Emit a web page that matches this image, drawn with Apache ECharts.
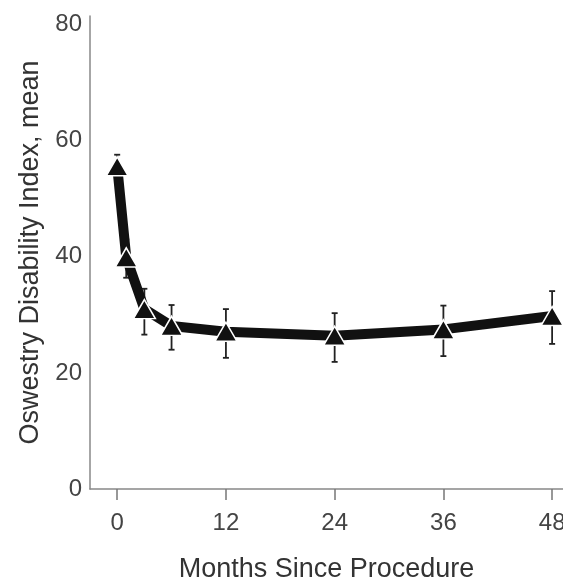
<!DOCTYPE html>
<html>
<head>
<meta charset="utf-8">
<script src="https://cdn.jsdelivr.net/npm/echarts@6/dist/echarts.min.js"></script>
<style>html,body{margin:0;padding:0;background:#fff}#c{width:563px;height:581px}</style>
</head>
<body>
<div id="c"></div>
<script>
// Data
const months = [0, 1, 3, 6, 12, 24, 36, 48];
const odiMean = [55.6, 39.9, 31.0, 28.1, 27.1, 26.4, 27.5, 29.8];
const odiUpper = [57.6, 43.0, 34.5, 31.7, 31.0, 30.3, 31.6, 34.1];
const odiLower = [53.6, 36.4, 26.6, 24.0, 22.6, 21.9, 22.9, 25.0];
const xTicks = [0, 12, 24, 36, 48];
const yTicks = [0, 20, 40, 60, 80];

const lineData = months.map((m, i) => [m, odiMean[i]]);
const errData = months.map((m, i) => [m, odiLower[i], odiUpper[i]]);

const chart = echarts.init(document.getElementById('c'), null, {renderer: 'canvas'});
const labelFont = '"Liberation Sans Narrow", "Liberation Sans", Arial, sans-serif';
const nameFont = '"Liberation Sans", Arial, sans-serif';

chart.setOption({
  animation: false,
  backgroundColor: '#fff',
  grid: {left: 90, right: 0, top: 16, bottom: 92, containLabel: false, outerBoundsMode: 'none'},
  xAxis: {
    type: 'value', min: -3, max: 49.2,
    name: 'Months Since Procedure', nameLocation: 'middle', nameGap: 67,
    nameTextStyle: {fontFamily: nameFont, fontSize: 27, color: '#333'},
    axisLine: {show: true, onZero: false, lineStyle: {color: '#888', width: 1.5}},
    axisTick: {show: true, length: 11, customValues: xTicks, lineStyle: {color: '#777', width: 1.5}},
    axisLabel: {customValues: xTicks, fontFamily: labelFont, fontSize: 24, color: '#444', margin: 22},
    splitLine: {show: false}
  },
  yAxis: {
    type: 'value', min: 0, max: 81.5,
    name: 'Oswestry Disability Index, mean', nameLocation: 'middle', nameGap: 45,
    nameTextStyle: {fontFamily: nameFont, fontSize: 27, color: '#333'},
    axisLine: {show: true, onZero: false, lineStyle: {color: '#888', width: 1.5}},
    axisTick: {show: false},
    axisLabel: {customValues: yTicks, fontFamily: labelFont, fontSize: 24, color: '#444', margin: 8},
    splitLine: {show: false}
  },
  series: [
    {
      type: 'custom',
      z: 1,
      data: errData,
      encode: {x: 0, y: [1, 2]},
      renderItem: function (params, api) {
        const x = api.value(0);
        const lo = api.coord([x, api.value(1)]);
        const hi = api.coord([x, api.value(2)]);
        const w = 3;
        const st = {stroke: '#222', lineWidth: 1.8};
        return {
          type: 'group',
          children: [
            {type: 'line', shape: {x1: lo[0], y1: lo[1], x2: hi[0], y2: hi[1]}, style: st},
            {type: 'line', shape: {x1: lo[0] - w, y1: lo[1], x2: lo[0] + w, y2: lo[1]}, style: st},
            {type: 'line', shape: {x1: hi[0] - w, y1: hi[1], x2: hi[0] + w, y2: hi[1]}, style: st}
          ]
        };
      }
    },
    {
      type: 'line',
      z: 3,
      data: lineData,
      lineStyle: {color: '#111', width: 10, cap: 'butt'},
      symbol: 'triangle',
      symbolSize: [22, 19],
      itemStyle: {color: '#111', borderColor: '#fff', borderWidth: 1.5},
      emphasis: {disabled: true}
    }
  ]
});
</script>
</body>
</html>
